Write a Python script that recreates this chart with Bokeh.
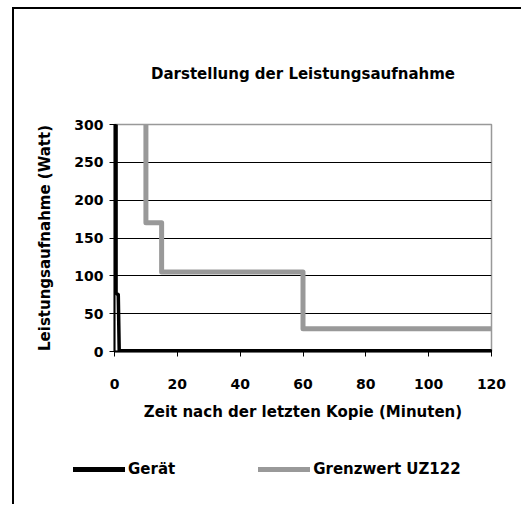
from bokeh.plotting import figure
from bokeh.models import Range1d, Legend, LegendItem, FixedTicker
from bokeh.embed import file_html
from bokeh.resources import INLINE

# Data
geraet_x = [0.5, 0.5, 1.2, 1.5, 120]
geraet_y = [400, 77, 75, 1, 1]
grenz_x = [10, 10, 15, 15, 60, 60, 120]
grenz_y = [320, 170, 170, 105, 105, 30, 30]
x_ticks = [0, 20, 40, 60, 80, 100, 120]
y_ticks = [0, 50, 100, 150, 200, 250, 300]
series_names = ["Gerät", "Grenzwert UZ122"]

FONT = "DejaVu Sans"
GRAY = "#999999"

p = figure(width=509, height=427, output_backend="svg", toolbar_location=None,
           x_range=Range1d(0, 120), y_range=Range1d(0, 300),
           min_border_left=100, min_border_right=32, min_border_top=115, min_border_bottom=85)

p.title.text = "Darstellung der Leistungsaufnahme"
p.title.align = "center"
p.title.text_font = FONT
p.title.text_font_size = "15px"
p.title.text_font_style = "bold"
p.title.text_color = "black"
p.title.standoff = 84

p.outline_line_color = GRAY
p.outline_line_width = 1.5
p.background_fill_color = "white"
p.border_fill_color = "white"

p.xgrid.visible = False
p.ygrid.grid_line_color = "black"
p.ygrid.grid_line_width = 1
p.ygrid.ticker = FixedTicker(ticks=y_ticks)

p.xaxis.ticker = FixedTicker(ticks=x_ticks)
p.yaxis.ticker = FixedTicker(ticks=y_ticks)
for ax in (p.xaxis[0], p.yaxis[0]):
    ax.axis_line_color = "black"
    ax.axis_line_width = 2
    ax.major_tick_line_color = "black"
    ax.major_tick_line_width = 1
    ax.major_tick_out = 5
    ax.major_tick_in = 2
    ax.minor_tick_line_color = None
    ax.major_label_text_font = FONT
    ax.major_label_text_font_size = "14px"
    ax.major_label_text_font_style = "bold"
    ax.major_label_text_color = "black"
    ax.axis_label_text_font = FONT
    ax.axis_label_text_font_size = "15px"
    ax.axis_label_text_font_style = "bold"
    ax.axis_label_text_color = "black"

p.xaxis.axis_label = "Zeit nach der letzten Kopie (Minuten)"
p.yaxis.axis_label = "Leistungsaufnahme (Watt)"
p.xaxis.major_label_standoff = 22
p.xaxis.axis_label_standoff = 11
p.yaxis.major_label_standoff = 6
p.yaxis.axis_label_standoff = 17

p.line(grenz_x, grenz_y, line_color=GRAY, line_width=5, line_join="round")
p.line(geraet_x, geraet_y, line_color="black", line_width=3.5, line_join="round")

# legend strip (series drawn outside its visible range, only the legend shows)
pl = figure(width=509, height=70, output_backend="svg", toolbar_location=None,
            x_range=Range1d(-2, -1), y_range=Range1d(-2, -1), x_axis_type=None, y_axis_type=None,
            min_border=0, min_border_left=0, min_border_right=0, min_border_top=0, min_border_bottom=0)
pl.outline_line_color = None
pl.background_fill_color = "white"
pl.border_fill_color = "white"
pl.xgrid.visible = False
pl.ygrid.visible = False
l1 = pl.line(geraet_x, geraet_y, line_color="black", line_width=5, line_cap="round")
l2 = pl.line(grenz_x, grenz_y, line_color=GRAY, line_width=5, line_cap="round")
legend = Legend(items=[LegendItem(label=series_names[0], renderers=[l1]),
                       LegendItem(label=series_names[1], renderers=[l2])],
                orientation="horizontal", location=(59, 26),
                glyph_width=52, glyph_height=16, spacing=83, label_standoff=3,
                padding=0, margin=0, border_line_color=None, background_fill_alpha=0,
                label_text_font=FONT, label_text_font_size="15px", label_text_font_style="bold",
                label_text_color="black")
pl.add_layout(legend)

p.styles = {"border-left": "2px solid black", "border-top": "2px solid black",
            "margin-left": "12px", "margin-top": "7px"}
pl.styles = {"border-left": "2px solid black", "margin-left": "12px"}

open("out.html", "w").write(file_html([p, pl], INLINE))
